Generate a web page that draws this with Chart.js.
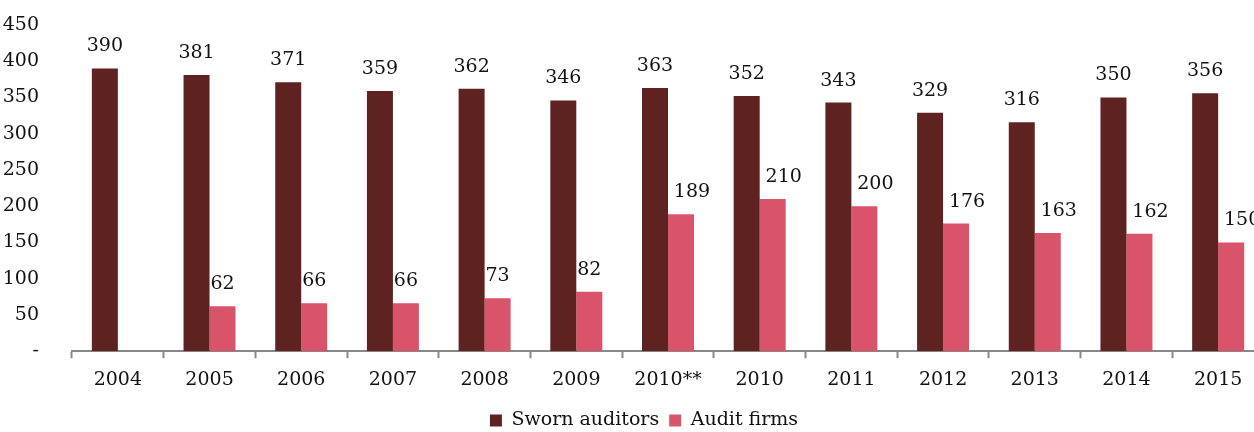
<!DOCTYPE html>
<html>
<head>
<meta charset="utf-8">
<script src="https://cdn.jsdelivr.net/npm/chart.js@4"></script>
<style>
  html, body { margin: 0; padding: 0; overflow: hidden; background: #fff; }
  #wrap { width: 1264px; height: 440px; position: relative; }
</style>
</head>
<body>
<div id="wrap"><canvas id="auditChart"></canvas></div>
<script>
const years = ['2004', '2005', '2006', '2007', '2008', '2009', '2010**', '2010', '2011', '2012', '2013', '2014', '2015'];
const swornAuditors = [390, 381, 371, 359, 362, 346, 363, 352, 343, 329, 316, 350, 356];
const auditFirms = [null, 62, 66, 66, 73, 82, 189, 210, 200, 176, 163, 162, 150];
const yTicks = [0, 50, 100, 150, 200, 250, 300, 350, 400, 450];

const serif = '"DejaVu Serif", "Liberation Serif", serif';

// draws the value over each bar (3-digit firm labels sit a bit to the right, like the original)
const barValues = {
  id: 'barValues',
  afterDatasetsDraw(chart) {
    const ctx = chart.ctx;
    ctx.save();
    ctx.font = '19px ' + serif;
    ctx.fillStyle = '#111';
    ctx.textAlign = 'center';
    ctx.textBaseline = 'middle';
    chart.data.datasets.forEach((ds, i) => {
      chart.getDatasetMeta(i).data.forEach((bar, j) => {
        const v = ds.data[j];
        if (v === null) return;
        let dx = 0;
        if (i === 1 && v >= 100) dx = 11;
        ctx.fillText(String(v), bar.x + dx, bar.y - 22);
      });
    });
    ctx.restore();
  }
};

// nudge the legend a little to the right
const legendShift = {
  id: 'legendShift',
  afterLayout(chart) {
    if (!chart.legend) return;
    chart.legend.left += 12;
    chart.legend.right += 12;
  }
};

const ctx = document.getElementById('auditChart');

new Chart(ctx, {
  type: 'bar',
  data: {
    labels: years,
    datasets: [
      {
        label: 'Sworn auditors',
        data: swornAuditors,
        backgroundColor: '#5e2320',
        barPercentage: 1,
        categoryPercentage: 0.567
      },
      {
        label: 'Audit firms',
        data: auditFirms,
        backgroundColor: '#d9536b',
        barPercentage: 1,
        categoryPercentage: 0.567
      }
    ]
  },
  options: {
    responsive: true,
    maintainAspectRatio: false,
    animation: false,
    layout: { padding: { top: 25, right: 0, bottom: 0, left: 0 } },
    plugins: {
      legend: {
        position: 'bottom',
        labels: {
          font: { family: serif, size: 19 },
          color: '#111',
          boxWidth: 12,
          boxHeight: 12,
          padding: 10
        }
      },
      tooltip: { enabled: false }
    },
    scales: {
      x: {
        grid: {
          display: true,
          offset: true,
          drawOnChartArea: false,
          drawTicks: true,
          tickLength: 7,
          tickWidth: 2,
          tickColor: '#888'
        },
        border: { display: true, color: '#888', width: 2 },
        ticks: {
          font: { family: serif, size: 19 },
          color: '#111',
          padding: 10,
          maxRotation: 0
        }
      },
      y: {
        min: 0,
        max: 450,
        afterFit(scale) {
          scale.width = 72;
          scale.paddingTop = 0;
          scale.paddingBottom = 0;
        },
        afterBuildTicks(scale) { scale.ticks = yTicks.map(v => ({ value: v })); },
        grid: { display: false },
        border: { display: false },
        ticks: {
          font: { family: serif, size: 19 },
          color: '#111',
          padding: 25,
          callback: v => v === 0 ? '-' : v
        }
      }
    }
  },
  plugins: [barValues, legendShift]
});
</script>
</body>
</html>
